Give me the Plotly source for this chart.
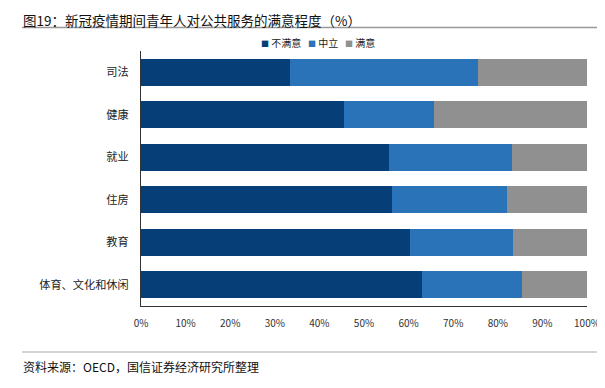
import plotly.graph_objects as go

categories = ["司法", "健康", "就业", "住房", "教育", "体育、文化和休闲"]
dissatisfied = [33.3, 45.6, 55.7, 56.3, 60.4, 62.9]
neutral = [42.3, 20.0, 27.4, 25.8, 23.1, 22.5]
satisfied = [24.4, 34.4, 16.9, 17.9, 16.5, 14.6]
series_names = ["不满意", "中立", "满意"]
tick_vals = [0, 10, 20, 30, 40, 50, 60, 70, 80, 90, 100]
tick_text = [f"{v}%" for v in tick_vals]

colors = ["#063F78", "#2A73B8", "#909090"]
FONT = "Noto Sans CJK SC"

# page body has an 8px default margin; size the figure so it ends at the window edge
OFF = 8
W, H = 605 - OFF, 388 - OFF
# plot area in screen pixels
SL, SR, ST, SB = 141, 587, 51, 306
L, R, T, B = SL - OFF, SR - OFF, ST - OFF, SB - OFF

def px_x(x):
    return (x - SL) / (SR - SL)

def px_y(y):
    return (SB - y) / (SB - ST)

fig = go.Figure()
for name, vals, c in zip(series_names, [dissatisfied, neutral, satisfied], colors):
    fig.add_trace(go.Bar(
        y=categories, x=vals, name=name, orientation="h",
        marker=dict(color=c, line=dict(width=0)),
        hoverinfo="x+y+name", showlegend=False,
    ))

fig.update_layout(
    width=W, height=H,
    barmode="stack", bargap=0.365,
    paper_bgcolor="white", plot_bgcolor="white",
    margin=dict(l=L, r=W - R, t=T, b=H - B, pad=0, autoexpand=False),
    font=dict(family=FONT, size=11, color="#222222"),
    xaxis=dict(
        range=[0, 100], tickvals=tick_vals, ticktext=tick_text,
        showgrid=False, zeroline=False, showline=True, linecolor="#333333", linewidth=1,
        ticks="", tickfont=dict(size=10, color="#333333"), ticklabelstandoff=8,
        automargin=False, fixedrange=True,
    ),
    yaxis=dict(
        autorange="reversed", showgrid=False, zeroline=False,
        showline=True, linecolor="#333333", linewidth=1, ticks="",
        tickfont=dict(size=11.2, color="#222222"), ticklabelstandoff=9,
        automargin=False,
    ),
)

# legend drawn as text with coloured squares
legend_text = "&nbsp;&nbsp;&nbsp;".join(
    f"<span style='color:{c};font-size:8px'>■</span> {n}" for n, c in zip(series_names, colors)
)
fig.add_annotation(
    text=legend_text, xref="paper", yref="paper", x=px_x(318), y=px_y(42.5),
    xanchor="center", yanchor="middle", showarrow=False,
    font=dict(size=10, color="#222222", family=FONT),
)

# title (anchored at the top edge so it is not clipped)
fig.add_annotation(
    text="图19：新冠疫情期间青年人对公共服务的满意程度（%）",
    xref="paper", yref="paper", x=px_x(21), y=px_y(8.3),
    xanchor="left", yanchor="top", showarrow=False,
    font=dict(size=13.5, color="#111111", family=FONT),
)
fig.add_shape(type="line", xref="paper", yref="paper",
              x0=px_x(22), x1=px_x(605), y0=px_y(27.5), y1=px_y(27.5),
              line=dict(color="#999999", width=1.5))
fig.add_shape(type="line", xref="paper", yref="paper",
              x0=px_x(22), x1=px_x(605), y0=px_y(352), y1=px_y(352),
              line=dict(color="#aaaaaa", width=1))
fig.add_annotation(
    text="资料来源：OECD，国信证券经济研究所整理",
    xref="paper", yref="paper", x=px_x(21), y=px_y(366),
    xanchor="left", yanchor="middle", showarrow=False,
    font=dict(size=12, color="#111111", family=FONT),
)

fig.write_html("out.html")
